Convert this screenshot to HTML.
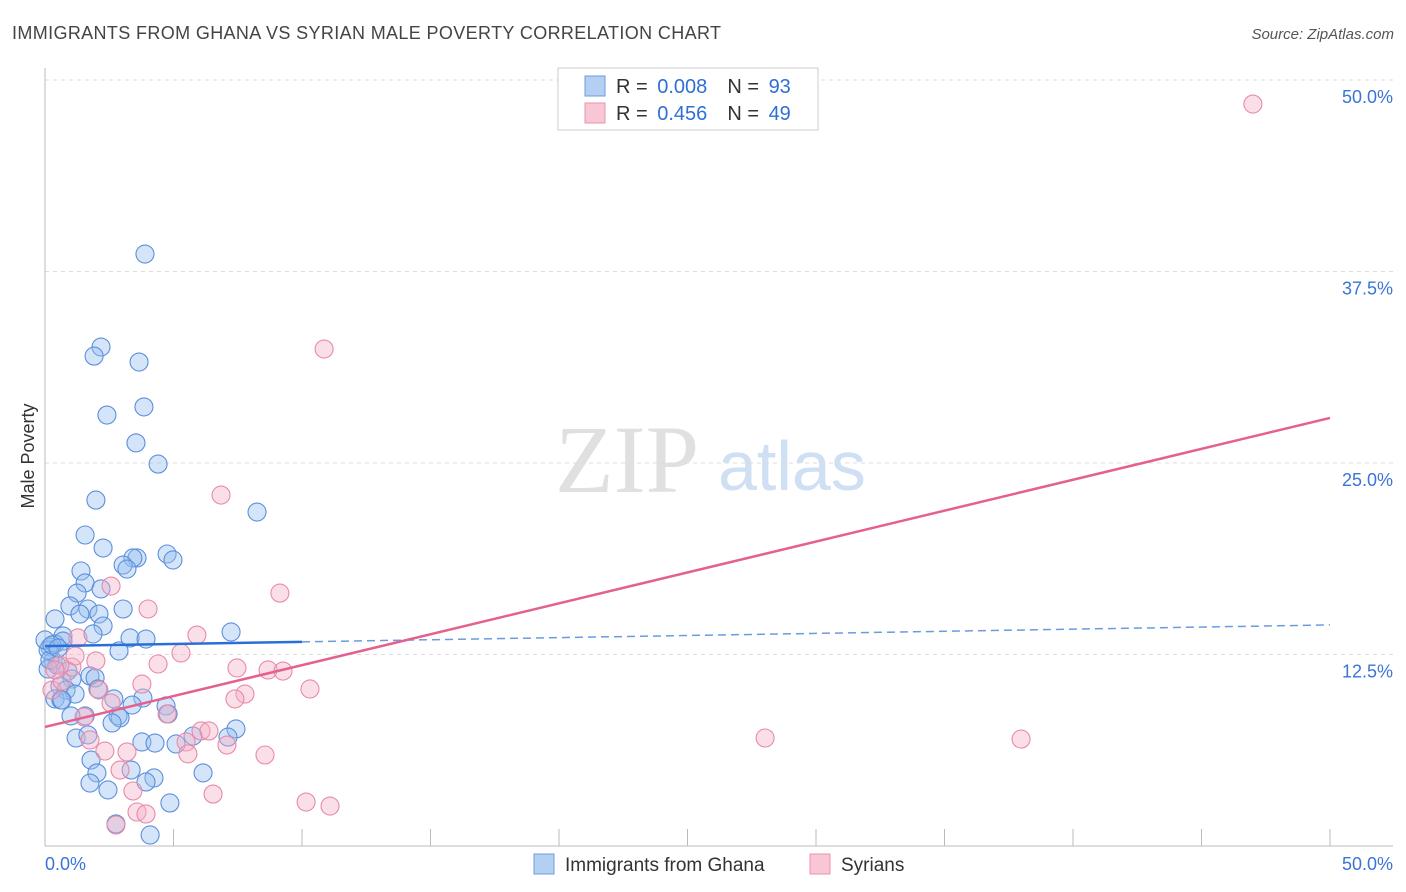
<!DOCTYPE html>
<html><head><meta charset="utf-8"><style>
body{margin:0;background:#fff;font-family:"Liberation Sans",sans-serif;}
svg{display:block}
</style></head><body>
<svg id="chart" width="1406" height="892">
<text x="12" y="39" font-size="18" fill="#444" textLength="709">IMMIGRANTS FROM GHANA VS SYRIAN MALE POVERTY CORRELATION CHART</text>
<text x="1394" y="39" font-size="15" fill="#555" font-style="italic" text-anchor="end">Source: ZipAtlas.com</text>
<text transform="translate(34,456) rotate(-90)" font-size="18" fill="#333" text-anchor="middle">Male Poverty</text>
<g>
<text x="555" y="492" font-size="96" font-family="Liberation Serif,serif" fill="#e0e0e0">ZIP</text>
<text x="718" y="490" font-size="70" fill="#cfdff4">atlas</text>
</g>
<g id="grid"></g><g id="axes"></g><g id="pts"></g><g id="trend"></g>
<g>
<rect x="558" y="68" width="260" height="62" fill="#fff" stroke="#ccc"/>
<rect x="585" y="76" width="20" height="20" fill="#b5cff3" stroke="#6a9be0"/>
<rect x="585" y="103" width="20" height="20" fill="#f8c6d5" stroke="#ea93ae"/>
<text x="616" y="93" font-size="20" fill="#333">R = <tspan fill="#2f6fd6" dx="4">0.008</tspan><tspan dx="20">N = </tspan><tspan fill="#2f6fd6" dx="4">93</tspan></text>
<text x="616" y="120" font-size="20" fill="#333">R = <tspan fill="#2f6fd6" dx="4">0.456</tspan><tspan dx="20">N = </tspan><tspan fill="#2f6fd6" dx="4">49</tspan></text>
</g>
<g>
<rect x="534" y="854" width="20" height="20" fill="#b5cff3" stroke="#6a9be0"/>
<text x="565" y="871" font-size="19" fill="#333">Immigrants from Ghana</text>
<rect x="810" y="854" width="20" height="20" fill="#f8c6d5" stroke="#ea93ae"/>
<text x="841" y="871" font-size="19" fill="#333">Syrians</text>
</g>
</svg>
<script>
const yTicks=[12.5,25,37.5,50];
const yTickLabels=["12.5%","25.0%","37.5%","50.0%"];
const xTickCount=10;
const ghanaX=[3.89,2.18,1.91,3.66,2.41,3.85,3.54,4.40,1.98,8.25,1.56,2.26,4.75,3.58,3.42,4.98,3.04,3.19,1.40,1.56,1.25,2.18,0.97,1.67,3.04,0.39,2.10,1.36,2.26,1.87,0.70,7.24,3.31,3.93,0.39,0.19,2.88,0.70,0.31,0.47,0.12,0.89,1.75,1.05,1.95,0.58,0.82,1.17,0.39,2.06,0.62,2.68,3.81,3.39,4.71,1.56,1.01,2.84,2.92,2.61,4.79,7.43,1.21,1.67,3.77,4.28,7.12,5.10,5.76,1.79,2.02,3.35,4.24,6.15,3.93,1.75,2.45,4.86,2.76,4.09,0.12,0.19,0.00,0.27,0.51,0.66];
const ghanaY=[38.64,32.57,31.98,31.59,28.13,28.66,26.31,24.93,22.58,21.80,20.30,19.45,19.06,18.80,18.80,18.67,18.34,18.08,17.95,17.17,16.51,16.78,15.67,15.47,15.47,14.82,15.14,15.14,14.36,13.84,13.71,13.97,13.58,13.51,13.19,12.99,12.73,13.38,12.08,11.81,11.55,11.42,11.10,10.90,10.97,10.44,10.18,9.92,9.60,10.25,9.53,9.60,9.66,9.20,9.14,8.49,8.49,8.49,8.36,8.03,8.62,7.64,7.05,7.25,6.79,6.72,7.11,6.66,7.18,5.61,4.77,4.96,4.44,4.77,4.18,4.11,3.66,2.81,1.44,0.72,12.79,12.14,13.45,13.12,12.92,9.53];
const syrX=[47.00,10.86,6.85,9.14,4.01,2.57,5.91,1.28,5.29,7.47,8.68,9.26,4.40,1.98,1.05,0.58,0.27,10.31,7.78,7.39,3.77,2.10,0.66,1.52,4.75,2.57,6.07,6.38,7.08,5.49,28.02,37.98,2.33,3.19,5.56,8.56,2.92,3.42,6.54,10.16,11.09,3.58,3.93,2.76,1.17,0.39,1.75];
const syrY=[48.43,32.44,22.91,16.51,15.47,16.97,13.77,13.58,12.60,11.62,11.49,11.42,11.88,12.08,11.68,11.81,10.18,10.25,9.92,9.60,10.57,10.18,10.77,8.42,8.62,9.33,7.51,7.51,6.59,6.79,7.05,6.98,6.20,6.14,6.01,5.94,4.96,3.59,3.39,2.87,2.61,2.22,2.09,1.37,12.40,11.49,6.92];
const ghanaTrend=[13.05,14.43];
const syrTrend=[7.77,27.94];
const NS="http://www.w3.org/2000/svg";
const X=v=>45+v*25.7;
const Y=v=>846-v*15.32;
function mk(tag,attrs,parent){const e=document.createElementNS(NS,tag);for(const k in attrs)e.setAttribute(k,attrs[k]);document.getElementById(parent).appendChild(e);return e;}
yTicks.forEach((t,i)=>{
 const g=mk('line',{x1:45,x2:1393,y1:Y(t),y2:Y(t),stroke:'#ddd','stroke-dasharray':'4,4'},'grid');
 
 
 const l=mk('text',{x:1393,y:Y(t)+23,'font-size':18,fill:'#3b74d6','text-anchor':'end'},'grid');
 l.textContent=yTickLabels[i];
 
 
});
const ax=mk('line',{x1:45,x2:45,y1:68,y2:846,stroke:'#bbb'},'axes');


const bx=mk('line',{x1:45,x2:1393,y1:846,y2:846,stroke:'#bbb'},'axes');


for(let i=0;i<=xTickCount;i++){
 const t=mk('line',{x1:X(i*5),x2:X(i*5),y1:829,y2:846,stroke:'#bbb'},'axes');
 
 
}
const x0=mk('text',{x:45,y:870,'font-size':18,fill:'#3b74d6'},'axes');x0.textContent='0.0%';


const x1=mk('text',{x:1393,y:870,'font-size':18,fill:'#3b74d6','text-anchor':'end'},'axes');x1.textContent='50.0%';


ghanaX.forEach((v,i)=>{
 const c=mk('circle',{cx:X(v),cy:Y(ghanaY[i]),r:9,fill:'rgba(150,190,240,0.4)',stroke:'#5b8fdc','stroke-width':1.1},'pts');
 
 
});
syrX.forEach((v,i)=>{
 const c=mk('circle',{cx:X(v),cy:Y(syrY[i]),r:9,fill:'rgba(245,175,198,0.4)',stroke:'#e88aa8','stroke-width':1.1},'pts');
 
 
});
const gy=x=>ghanaTrend[0]+(ghanaTrend[1]-ghanaTrend[0])*x/50;
const t1=mk('line',{x1:X(0),y1:Y(gy(0)),x2:X(10),y2:Y(gy(10)),stroke:'#2a6fd8','stroke-width':2.5},'trend');


const t2=mk('line',{x1:X(10),y1:Y(gy(10)),x2:X(50),y2:Y(gy(50)),stroke:'#6a9be0','stroke-width':1.5,'stroke-dasharray':'8,5'},'trend');


const t3=mk('line',{x1:X(0),y1:Y(syrTrend[0]),x2:X(50),y2:Y(syrTrend[1]),stroke:'#e4608e','stroke-width':2.5},'trend');


</script>
</body></html>
